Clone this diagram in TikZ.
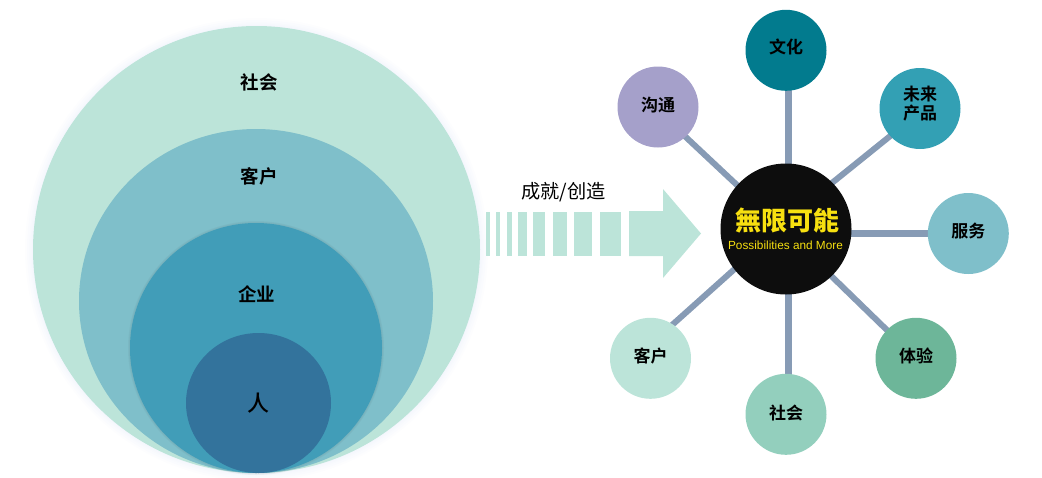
\documentclass[tikz,border=0pt]{standalone}
\usepackage{fontspec}
\usetikzlibrary{backgrounds}
\newfontfamily\cjk{Noto Sans CJK SC}
\newfontfamily\cjkb{Noto Sans CJK SC Bold}
\newfontfamily\cjkm{Noto Sans CJK SC Medium}
\newfontfamily\cjkblack{Noto Sans CJK TC Black}
\setsansfont{Liberation Sans}
\definecolor{cA}{HTML}{BCE4D9}
\definecolor{cB}{HTML}{7FBFCA}
\definecolor{cC}{HTML}{419DB8}
\definecolor{cD}{HTML}{33739C}
\definecolor{cLink}{HTML}{879BB5}
\definecolor{cTeal}{HTML}{027B8E}
\definecolor{cPurple}{HTML}{A5A0CA}
\definecolor{cCyan}{HTML}{33A0B4}
\definecolor{cGreen}{HTML}{6DB699}
\definecolor{cMint}{HTML}{93CFBD}
\definecolor{cHub}{HTML}{0D0D0D}
\definecolor{cYellow}{HTML}{F7E010}
\definecolor{cGlow}{HTML}{9FB4E8}
\tikzset{
 sat/.style={circle,minimum size=81pt,inner sep=0pt},
 sattext/.style={inner sep=0pt,align=center,text=black,font=\cjkb\fontsize{17}{19}\selectfont},
 lbl/.style={inner sep=0pt,text=black,font=\cjkb\fontsize{18.5}{20}\selectfont},
 link/.style={draw=cLink,line width=6pt},
 vlink/.style={draw=cLink,line width=7pt},
}
\begin{document}
\begin{tikzpicture}[x=1pt,y=-1pt]
\useasboundingbox (0,0) rectangle (1042,477);
% soft glow round the outer circle
\foreach \d in {8,6,4,2.5,1}{
 \fill[cGlow,opacity=0.025] (256.5,249.5) circle ({223.5+\d});
}
\fill[cA] (256.5,249.5) circle (223.5);
\fill[cB] (256,301) ellipse (177 and 172);
\foreach \d in {2,1}{\fill[black!40!cB,opacity=0.08] (256,348) ellipse ({126+\d} and {125+\d});}
\fill[cC] (256,348) ellipse (126 and 125);
\fill[cD] (258.5,403) ellipse (72.5 and 70);
\node[lbl] (l1) at (259.2,82.7) {社会};
\node[lbl] (l2) at (259.2,176.7) {客户};
\node[lbl] (l3) at (256.7,294) {企业};
\node[lbl,font=\cjkm\fontsize{22}{24}\selectfont] (l4) at (258.5,403.5) {人};
% arrow
\foreach \a/\b in {486/490,496/500,507/512,518/527,533/545,553/567,574/592,600/621}{
 \fill[cA] (\a,212) rectangle (\b,256);
}
\fill[cA] (629,211) -- (663,211) -- (663,189) -- (701,233.5) -- (663,278) -- (663,256) -- (629,256) -- cycle;
\node[inner sep=0pt,font=\cjk\fontsize{19.2}{21}\selectfont] (t) at (563.5,192) {成就/创造};
% network
\node[circle,minimum size=131pt,inner sep=0pt,fill=cHub] (hub) at (786,229) {};
\node[sat,fill=cTeal,label={[sattext,yshift=3.5pt]center:文化}] (a) at (786,50.3) {};
\node[sat,fill=cCyan,label={[sattext,yshift=5pt]center:未来\\产品}] (b) at (920,108.5) {};
\node[sat,fill=cB,label={[sattext,yshift=2pt]center:服务}] (c) at (968.3,233.5) {};
\node[sat,fill=cGreen,label={[sattext,yshift=2pt]center:体验}] (d) at (916,358.3) {};
\node[sat,fill=cMint,label={[sattext,yshift=1pt]center:社会}] (e) at (786,414.3) {};
\node[sat,fill=cA,label={[sattext,yshift=2pt]center:客户}] (f) at (650.5,358.3) {};
\node[sat,fill=cPurple,label={[sattext,yshift=2pt]center:沟通}] (g) at (658,107) {};
\begin{scope}[on background layer]
\draw[vlink] ([xshift=2.5pt]hub.center) -- ([xshift=2.5pt]a.center);
\draw[link] ([yshift=9pt]hub.center) -- ([yshift=-3.5pt]b.center);
\draw[vlink] (hub.center |- c.center) -- (c.center);
\draw[link] ([yshift=-3pt]hub.center) -- (d.center);
\draw[vlink] ([xshift=2.5pt]hub.center) -- ([xshift=2.5pt]e.center);
\draw[link] ([yshift=6pt]hub.center) -- ([yshift=14pt]f.center);
\draw[link] ([yshift=-2pt]hub.center) -- ([yshift=-4pt]g.center);
\end{scope}
\node[inner sep=0pt,text=cYellow,font=\cjkblack\fontsize{26}{28}\selectfont] (h1) at (787,220.5) {無限可能};
\node[inner sep=0pt,text=cYellow,font=\sffamily\fontsize{11.8}{14}\selectfont] (h2) at (785.5,245.7) {Possibilities and More};
\end{tikzpicture}
\end{document}
